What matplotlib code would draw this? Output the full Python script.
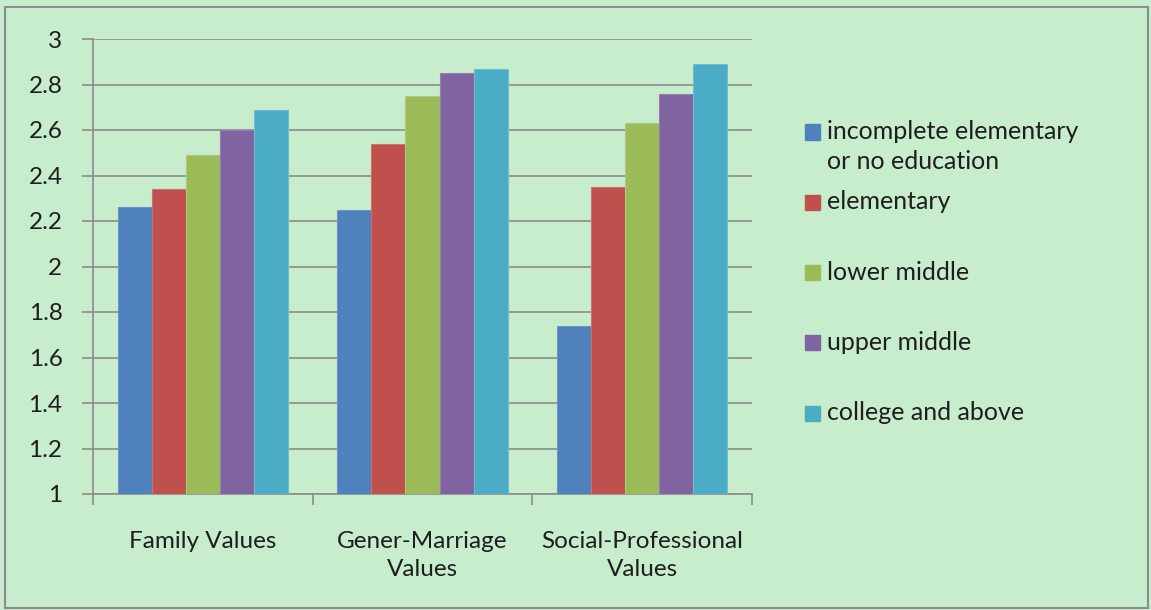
import matplotlib.pyplot as plt
import numpy as np
from matplotlib.patches import Rectangle

categories = ["Family Values", "Gener-Marriage\nValues", "Social-Professional\nValues"]
series_names = ["incomplete elementary\nor no education", "elementary", "lower middle",
                "upper middle", "college and above"]
incomplete = [2.26, 2.25, 1.74]
elementary = [2.34, 2.54, 2.35]
lower_middle = [2.49, 2.75, 2.63]
upper_middle = [2.60, 2.85, 2.76]
college = [2.69, 2.87, 2.89]
yticks = [1, 1.2, 1.4, 1.6, 1.8, 2, 2.2, 2.4, 2.6, 2.8, 3]

values = [incomplete, elementary, lower_middle, upper_middle, college]
colors = ["#4F81BD", "#C0504D", "#9BBB59", "#8064A2", "#4BACC6"]
edges = ["#6F93C8", "#CC7370", "#AFC87E", "#957FB2", "#70BCD1"]
bg = "#C7EDCC"
txt = "#1E1E1E"

plt.rcParams['font.family'] = ['Lato', 'DejaVu Sans']

fig = plt.figure(figsize=(11.51, 6.10), dpi=100, facecolor=bg)
fig.patches.append(Rectangle((5/1151, 2/610), 1143/1151, 601/610, transform=fig.transFigure,
                             fill=False, edgecolor="#8C8C8C", linewidth=1.5))
ax = fig.add_axes([93/1151, 1 - 494/610, (752 - 93)/1151, (494 - 39)/610])
ax.set_facecolor(bg)

x = np.arange(len(categories))
w = 0.155
for i, (vals, c, e) in enumerate(zip(values, colors, edges)):
    ax.bar(x + (i - 2) * w, np.array(vals) - 1, bottom=1, width=w, color=c,
           edgecolor=e, linewidth=0.8, zorder=3)

ax.set_xlim(-0.5, 2.5)
ax.set_ylim(1, 3)
ax.set_yticks(yticks)
ax.set_yticklabels([f"{t:g}" for t in yticks], fontsize=17.5, color=txt)
ax.yaxis.grid(True, color="#8C8C8C", linewidth=1.2, zorder=0)
ax.set_axisbelow(True)

ax.set_xticks(x)
ax.set_xticklabels(categories, fontsize=17.5, color=txt, linespacing=1.4)
ax.tick_params(axis='x', length=0, pad=27)
ax.set_xticks([-0.5, 0.5, 1.5, 2.5], minor=True)
ax.tick_params(axis='x', which='minor', length=8, color="#8C8C8C", width=1.2)
ax.tick_params(axis='y', length=8, color="#8C8C8C", width=1.2, pad=14)

for s in ['top', 'right']:
    ax.spines[s].set_visible(False)
for s in ['left', 'bottom']:
    ax.spines[s].set_color("#8C8C8C")
    ax.spines[s].set_linewidth(1.2)

# legend drawn by hand to match spacing
for i, (name, c) in enumerate(zip(series_names, colors)):
    yc = 132 + 70.3 * i
    fig.patches.append(Rectangle((805/1151, 1 - (yc + 7.5)/610), 15/1151, 15/610,
                                 transform=fig.transFigure, facecolor=c, edgecolor=c))
    fig.text(827/1151, 1 - (yc - 12)/610, name, fontsize=18, color=txt, va='top',
             ha='left', linespacing=1.35)

fig.savefig("out.png", dpi=100, facecolor=bg)
